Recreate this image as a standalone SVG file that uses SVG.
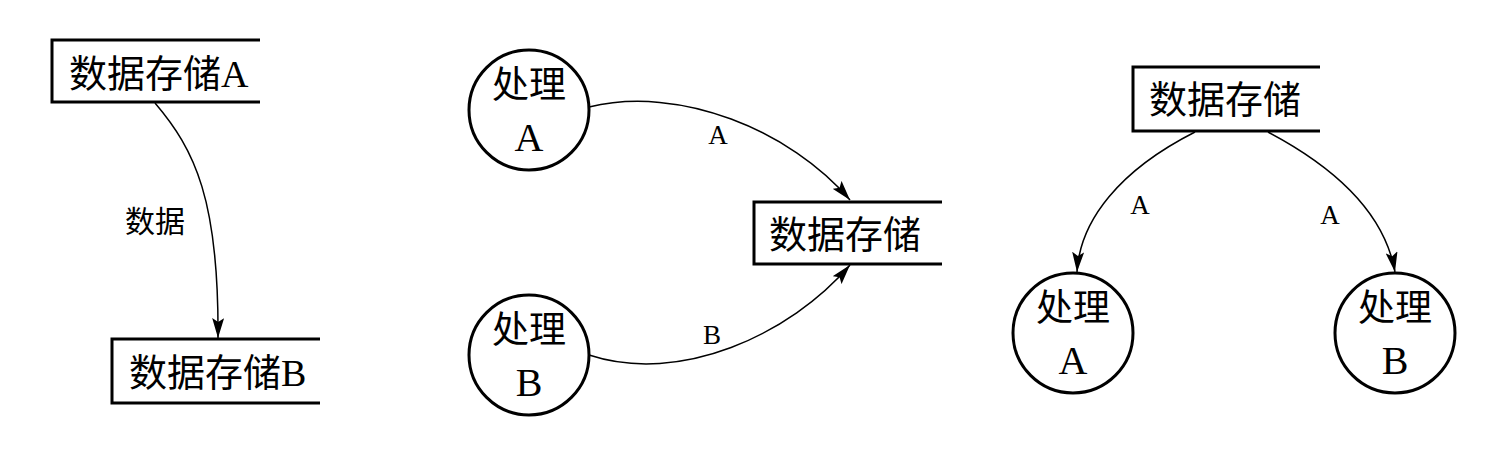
<svg xmlns="http://www.w3.org/2000/svg" width="1507" height="450" viewBox="0 0 1507 450">
<defs>
<style>
.box{fill:none;stroke:#000;stroke-width:3}
.proc{fill:#fff;stroke:#000;stroke-width:3}
.t{font-family:"Liberation Serif","Noto Sans CJK SC",serif;fill:#000}
.big{font-size:38px}
.cj{font-size:37px}
.let{font-size:40px}
.lab{font-size:27px}
.labc{font-size:30px}
.edge{fill:none;stroke:#000;stroke-width:1.5}
</style>
<marker id="arr" markerUnits="userSpaceOnUse" markerWidth="20" markerHeight="12" viewBox="0 0 20 12" refX="20" refY="6" orient="auto">
<path d="M0,0 L20,6 L0,12 L4,6 Z" fill="#000"/>
</marker>
</defs>
<rect width="1507" height="450" fill="#fff"/>
<g id="connectors">
<path class="edge" d="M155,103 C195,150 219,200 218,338" marker-end="url(#arr)"/>
<path class="edge" d="M589,107 C680,85 790,130 850,200" marker-end="url(#arr)"/>
<path class="edge" d="M589,355 C680,385 790,335 850,265" marker-end="url(#arr)"/>
<path class="edge" d="M1195,132 C1120,170 1080,220 1077,272" marker-end="url(#arr)"/>
<path class="edge" d="M1268,132 C1340,170 1385,215 1395,272" marker-end="url(#arr)"/>
<text class="t labc" x="155" y="232" text-anchor="middle">数据</text>
<text class="t lab" x="718" y="144" text-anchor="middle">A</text>
<text class="t lab" x="712" y="344" text-anchor="middle">B</text>
<text class="t lab" x="1140" y="214" text-anchor="middle">A</text>
<text class="t lab" x="1330" y="224" text-anchor="middle">A</text>
</g>
<g id="storeA">
<path class="box" d="M260,40 H52 V102 H260"/>
<text class="t big" x="69" y="87">数据存储A</text>
</g>
<g id="storeB">
<path class="box" d="M320,339 H112 V403 H320"/>
<text class="t big" x="129" y="386">数据存储B</text>
</g>
<g id="procA">
<circle class="proc" cx="529" cy="110" r="60"/>
<text class="t cj" x="529" y="98" text-anchor="middle">处理</text>
<text class="t let" x="529" y="151" text-anchor="middle">A</text>
</g>
<g id="procB">
<circle class="proc" cx="529" cy="355" r="60"/>
<text class="t cj" x="529" y="343" text-anchor="middle">处理</text>
<text class="t let" x="529" y="396" text-anchor="middle">B</text>
</g>
<g id="storeMid">
<path class="box" d="M942,202 H754 V264 H942"/>
<text class="t big" x="769" y="248">数据存储</text>
</g>
<g id="storeRight">
<path class="box" d="M1320,67 H1133 V131 H1320"/>
<text class="t big" x="1149" y="113">数据存储</text>
</g>
<g id="procRA">
<circle class="proc" cx="1073" cy="333" r="60"/>
<text class="t cj" x="1073" y="321" text-anchor="middle">处理</text>
<text class="t let" x="1073" y="374" text-anchor="middle">A</text>
</g>
<g id="procRB">
<circle class="proc" cx="1395" cy="333" r="60"/>
<text class="t cj" x="1395" y="321" text-anchor="middle">处理</text>
<text class="t let" x="1395" y="374" text-anchor="middle">B</text>
</g>
</svg>
